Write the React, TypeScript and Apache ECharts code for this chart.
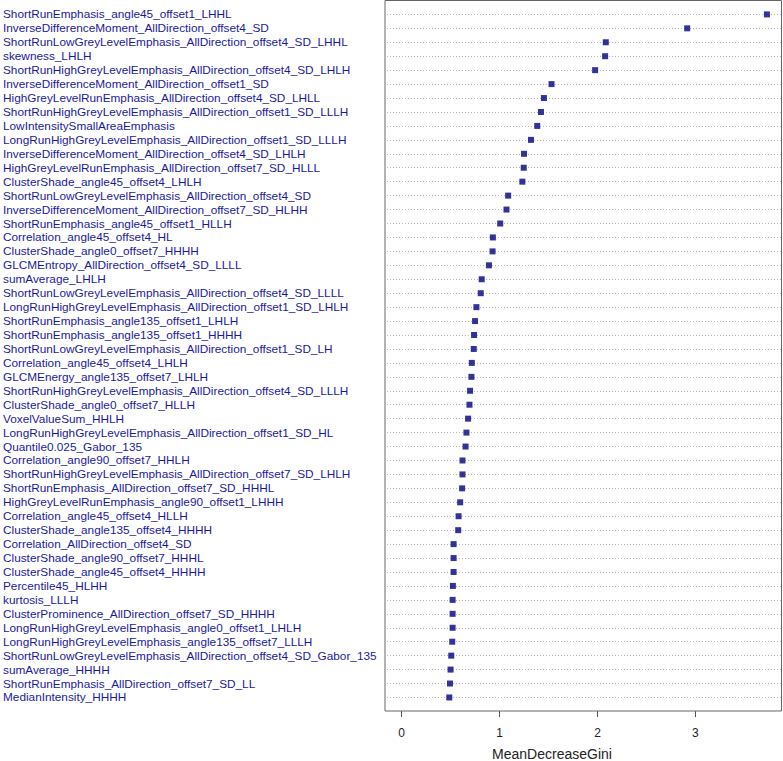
import React, { useEffect, useRef } from "react";
import * as echarts from "echarts";

const features: string[] = [
  "ShortRunEmphasis_angle45_offset1_LHHL",
  "InverseDifferenceMoment_AllDirection_offset4_SD",
  "ShortRunLowGreyLevelEmphasis_AllDirection_offset4_SD_LHHL",
  "skewness_LHLH",
  "ShortRunHighGreyLevelEmphasis_AllDirection_offset4_SD_LHLH",
  "InverseDifferenceMoment_AllDirection_offset1_SD",
  "HighGreyLevelRunEmphasis_AllDirection_offset4_SD_LHLL",
  "ShortRunHighGreyLevelEmphasis_AllDirection_offset1_SD_LLLH",
  "LowIntensitySmallAreaEmphasis",
  "LongRunHighGreyLevelEmphasis_AllDirection_offset1_SD_LLLH",
  "InverseDifferenceMoment_AllDirection_offset4_SD_LHLH",
  "HighGreyLevelRunEmphasis_AllDirection_offset7_SD_HLLL",
  "ClusterShade_angle45_offset4_LHLH",
  "ShortRunLowGreyLevelEmphasis_AllDirection_offset4_SD",
  "InverseDifferenceMoment_AllDirection_offset7_SD_HLHH",
  "ShortRunEmphasis_angle45_offset1_HLLH",
  "Correlation_angle45_offset4_HL",
  "ClusterShade_angle0_offset7_HHHH",
  "GLCMEntropy_AllDirection_offset4_SD_LLLL",
  "sumAverage_LHLH",
  "ShortRunLowGreyLevelEmphasis_AllDirection_offset4_SD_LLLL",
  "LongRunHighGreyLevelEmphasis_AllDirection_offset1_SD_LHLH",
  "ShortRunEmphasis_angle135_offset1_LHLH",
  "ShortRunEmphasis_angle135_offset1_HHHH",
  "ShortRunLowGreyLevelEmphasis_AllDirection_offset1_SD_LH",
  "Correlation_angle45_offset4_LHLH",
  "GLCMEnergy_angle135_offset7_LHLH",
  "ShortRunHighGreyLevelEmphasis_AllDirection_offset4_SD_LLLH",
  "ClusterShade_angle0_offset7_HLLH",
  "VoxelValueSum_HHLH",
  "LongRunHighGreyLevelEmphasis_AllDirection_offset1_SD_HL",
  "Quantile0.025_Gabor_135",
  "Correlation_angle90_offset7_HHLH",
  "ShortRunHighGreyLevelEmphasis_AllDirection_offset7_SD_LHLH",
  "ShortRunEmphasis_AllDirection_offset7_SD_HHHL",
  "HighGreyLevelRunEmphasis_angle90_offset1_LHHH",
  "Correlation_angle45_offset4_HLLH",
  "ClusterShade_angle135_offset4_HHHH",
  "Correlation_AllDirection_offset4_SD",
  "ClusterShade_angle90_offset7_HHHL",
  "ClusterShade_angle45_offset4_HHHH",
  "Percentile45_HLHH",
  "kurtosis_LLLH",
  "ClusterProminence_AllDirection_offset7_SD_HHHH",
  "LongRunHighGreyLevelEmphasis_angle0_offset1_LHLH",
  "LongRunHighGreyLevelEmphasis_angle135_offset7_LLLH",
  "ShortRunLowGreyLevelEmphasis_AllDirection_offset4_SD_Gabor_135",
  "sumAverage_HHHH",
  "ShortRunEmphasis_AllDirection_offset7_SD_LL",
  "MedianIntensity_HHHH",
];

const meanDecreaseGini: number[] = [
  3.73, 2.916, 2.085, 2.078, 1.976, 1.531, 1.453, 1.423, 1.385, 1.321,
  1.25, 1.247, 1.233, 1.088, 1.071, 1.007, 0.932, 0.929, 0.892, 0.818,
  0.808, 0.764, 0.75, 0.74, 0.737, 0.717, 0.713, 0.699, 0.693, 0.679,
  0.662, 0.653, 0.622, 0.622, 0.618, 0.598, 0.582, 0.578, 0.531, 0.531,
  0.531, 0.524, 0.521, 0.521, 0.521, 0.517, 0.507, 0.5, 0.494, 0.487,
];

const xTicks: number[] = [0, 1, 2, 3];
const xTitle = "MeanDecreaseGini";

export default function App() {
  const ref = useRef<HTMLDivElement>(null);
  useEffect(() => {
    document.body.style.margin = "0";
    if (!ref.current) return;
    const chart = echarts.init(ref.current, null, { renderer: "svg" });

    const boxLeft = 385;
    const boxTop = 0.5;
    const boxRight = 781.5;
    const boxBottom = 711;
    const rowFirst = 14.4;
    const step = 13.94;
    const rowLast = rowFirst + step * (features.length - 1);
    const font = "Liberation Sans, Arial, sans-serif";

    chart.setOption({
      animation: false,
      textStyle: { fontFamily: font },
      grid: {
        left: boxLeft,
        top: rowFirst,
        width: boxRight - boxLeft,
        height: rowLast - rowFirst,
        containLabel: false,
      },
      xAxis: {
        type: "value",
        min: -0.149,
        max: 3.879,
        offset: boxBottom - rowLast,
        axisLine: { show: false },
        splitLine: { show: false },
        axisTick: {
          show: true,
          length: 6,
          customValues: xTicks,
          lineStyle: { color: "#555", width: 1 },
        },
        axisLabel: {
          customValues: xTicks,
          color: "#222",
          fontSize: 12,
          margin: 16,
          fontFamily: font,
        },
      },
      yAxis: {
        type: "category",
        data: features,
        inverse: true,
        boundaryGap: false,
        axisLine: { show: false },
        axisTick: { show: false },
        splitLine: {
          show: true,
          lineStyle: { color: "#b8b8b8", type: [1, 2], width: 1 },
        },
        axisLabel: {
          interval: 0,
          align: "left",
          margin: boxLeft - 1,
          color: "#1a1a9e",
          fontSize: 11.8,
          fontFamily: font,
        },
      },
      series: [
        {
          type: "scatter",
          symbol: "rect",
          symbolSize: 6,
          itemStyle: { color: "#000080" },
          data: meanDecreaseGini.map((v, i) => [v, features[i]]),
        },
      ],
      graphic: [
        {
          type: "rect",
          shape: {
            x: boxLeft,
            y: boxTop,
            width: boxRight - boxLeft,
            height: boxBottom - boxTop,
          },
          style: { fill: "none", stroke: "#666", lineWidth: 1 },
          silent: true,
          z: 10,
        },
        {
          type: "text",
          x: 552,
          y: 753.5,
          style: {
            text: xTitle,
            fill: "#222",
            fontSize: 14,
            fontFamily: font,
            textAlign: "center",
            textVerticalAlign: "middle",
          },
        },
      ],
    });
    return () => chart.dispose();
  }, []);
  return <div ref={ref} style={{ width: 783, height: 761 }} />;
}
